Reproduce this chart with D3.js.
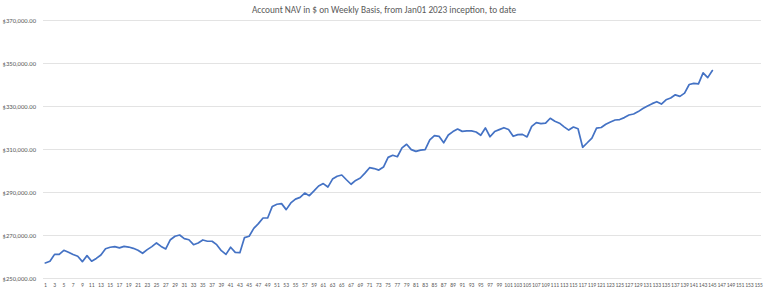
<!DOCTYPE html>
<html>
<head>
<meta charset="utf-8">
<script src="https://cdn.jsdelivr.net/npm/d3@7"></script>
<style>
  html, body { margin: 0; padding: 0; background: #ffffff; }
  svg { display: block; }
</style>
</head>
<body>
<svg id="chart" width="768" height="293"></svg>
<script>
// ---- Data ----
const title = "Account NAV in $ on Weekly Basis, from Jan01 2023 inception, to date";
const categories = d3.range(1, 156); // week numbers shown on the axis (1..155)
const navValues = [
  257.0, 257.8, 261.0, 261.0, 262.9, 262.0, 260.9, 260.1, 257.6, 260.4,
  257.8, 259.1, 260.7, 263.6, 264.3, 264.6, 264.0, 264.7, 264.4, 263.8,
  262.9, 261.5, 263.2, 264.6, 266.3, 264.7, 263.5, 267.8, 269.4, 270.0,
  268.3, 267.8, 265.5, 266.3, 267.7, 267.1, 267.1, 265.5, 262.7, 261.0,
  264.3, 261.9, 261.8, 268.8, 269.4, 273.1, 275.3, 277.9, 277.9, 283.3,
  284.3, 284.6, 281.8, 284.9, 286.7, 287.5, 289.5, 288.3, 290.5, 292.8,
  293.9, 292.3, 296.0, 297.3, 297.9, 295.7, 293.6, 295.4, 296.5, 298.8,
  301.3, 300.9, 300.2, 301.6, 306.1, 307.1, 306.4, 310.5, 312.2, 309.7,
  308.9, 309.5, 309.7, 314.2, 316.2, 315.9, 312.9, 316.5, 318.1, 319.3,
  318.2, 318.4, 318.4, 317.9, 316.4, 319.8, 315.7, 318.1, 319.0, 319.9,
  319.1, 315.9, 316.7, 316.8, 315.6, 320.5, 322.3, 321.8, 322.0, 324.3,
  322.9, 322.0, 320.3, 318.8, 320.2, 319.4, 310.8, 312.9, 315.1, 319.7,
  320.0, 321.5, 322.6, 323.5, 323.7, 324.6, 325.8, 326.3, 327.4, 328.8,
  330.0, 331.1, 332.0, 330.9, 332.9, 333.7, 335.2, 334.5, 336.0, 340.0,
  340.5, 340.3, 345.4, 343.2, 346.5
].map(v => v * 1000);
const yTicks = [250000, 270000, 290000, 310000, 330000, 350000, 370000];
const xTickLabels = categories.filter(c => c % 2 === 1);

// ---- Layout ----
const svg = d3.select("#chart");
const mLeft = 43, mRight = 761, mTop = 20, mBottom = 278;

const x = d3.scaleBand().domain(categories).range([mLeft, mRight]).padding(0);
const y = d3.scaleLinear().domain([250000, 370000]).range([mBottom, mTop]);

const fmt = v => "$" + d3.format(",.2f")(v);
const fontFam = "Carlito, 'Liberation Sans', Arial, sans-serif";

// Title
svg.append("text")
  .attr("x", 384).attr("y", 13)
  .attr("text-anchor", "middle")
  .attr("font-family", fontFam)
  .attr("font-size", 9.3)
  .attr("fill", "#595959")
  .text(title);

// Gridlines
svg.append("g").selectAll("line").data(yTicks).join("line")
  .attr("x1", mLeft).attr("x2", mRight)
  .attr("y1", d => y(d) + 0.5).attr("y2", d => y(d) + 0.5)
  .attr("stroke", "#e3e3e3").attr("stroke-width", 1);

// Y axis labels
const yAxis = d3.axisLeft(y).tickValues(yTicks).tickFormat(fmt).tickSize(0).tickPadding(7);
const gy = svg.append("g").attr("transform", `translate(${mLeft},0)`).call(yAxis);
gy.select(".domain").remove();
gy.selectAll("text")
  .attr("font-family", fontFam)
  .attr("font-size", 6.6)
  .attr("fill", "#595959");

// X axis labels
const xAxis = d3.axisBottom(x).tickValues(xTickLabels).tickSize(0).tickPadding(5);
const gx = svg.append("g").attr("transform", `translate(0,${mBottom})`).call(xAxis);
gx.select(".domain").attr("stroke", "#e3e3e3");
gx.selectAll("text")
  .attr("font-family", fontFam)
  .attr("font-size", 5.6)
  .attr("fill", "#595959");

// Line
const line = d3.line()
  .x((d, i) => x(categories[i]) + x.bandwidth() / 2)
  .y(d => y(d));

svg.append("path")
  .datum(navValues)
  .attr("fill", "none")
  .attr("stroke", "#4472C4")
  .attr("stroke-width", 1.7)
  .attr("stroke-linejoin", "round")
  .attr("stroke-linecap", "round")
  .attr("d", line);
</script>
</body>
</html>
